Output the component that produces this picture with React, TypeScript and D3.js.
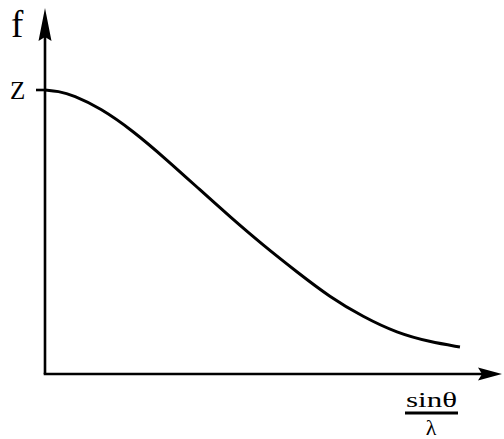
import React from "react";
import * as d3 from "d3";

// Atomic scattering factor f versus sinθ/λ (normalised: f = Z at the origin)
const sinThetaOverLambda = [0, 0.029, 0.062, 0.121, 0.193, 0.268, 0.341, 0.407, 0.479, 0.554, 0.626, 0.699, 0.774, 0.846, 0.912];
const fOverZ = [1, 0.996, 0.982, 0.937, 0.857, 0.754, 0.648, 0.553, 0.454, 0.359, 0.271, 0.201, 0.144, 0.113, 0.095];

const W = 504;
const H = 439;
const SERIF = "Liberation Serif";

export default function App() {
  const x = d3.scaleLinear().domain([0, 1]).range([45, 500]);
  const y = d3.scaleLinear().domain([0, 1]).range([374, 90]);

  const pts: [number, number][] = sinThetaOverLambda.map((v, i) => [v, fOverZ[i]]);
  const line = d3
    .line<[number, number]>()
    .x((d) => x(d[0]))
    .y((d) => y(d[1]))
    .curve(d3.curveBasis);

  const x0 = x(0);
  const y0 = y(0);
  const yTop = 8;
  const xEnd = 502;
  const txt = { fontFamily: SERIF };

  return (
    <svg
      width={W}
      height={H}
      fontFamily={SERIF}
      style={{ position: "absolute", left: 0, top: 0, background: "#fff", fontFamily: SERIF }}
    >
      {/* axes */}
      <line x1={x0} y1={y0} x2={x0} y2={yTop + 20} stroke="#000" strokeWidth={2.6} />
      <line x1={x0 - 1.3} y1={y0} x2={xEnd - 16} y2={y0} stroke="#000" strokeWidth={2.6} />
      <path
        d={`M${x0},${yTop} L${x0 + 6.5},${yTop + 33} L${x0},${yTop + 29} L${x0 - 6.5},${yTop + 33} Z`}
        fill="#000"
      />
      <path
        d={`M${xEnd},${y0} L${xEnd - 24},${y0 + 6.5} L${xEnd - 20},${y0} L${xEnd - 24},${y0 - 6.5} Z`}
        fill="#000"
      />

      {/* Z tick */}
      <line x1={x0 - 9} y1={y(1)} x2={x0} y2={y(1)} stroke="#000" strokeWidth={2.6} />

      {/* curve */}
      <path d={line(pts) ?? ""} fill="none" stroke="#000" strokeWidth={3} />

      {/* labels */}
      <text x={11} y={37} fontSize={37} fontFamily={SERIF} style={txt}>f</text>
      <text x={10} y={99} fontSize={25} fontFamily={SERIF} style={txt}>Z</text>
      <text x={406} y={407} fontSize={22} textLength={51} lengthAdjust="spacingAndGlyphs" fontFamily={SERIF} style={txt}>sinθ</text>
      <line x1={405} y1={413} x2={458} y2={413} stroke="#000" strokeWidth={3} />
      <text x={431} y={435} fontSize={22} textAnchor="middle" fontFamily={SERIF} style={txt}>λ</text>
    </svg>
  );
}
